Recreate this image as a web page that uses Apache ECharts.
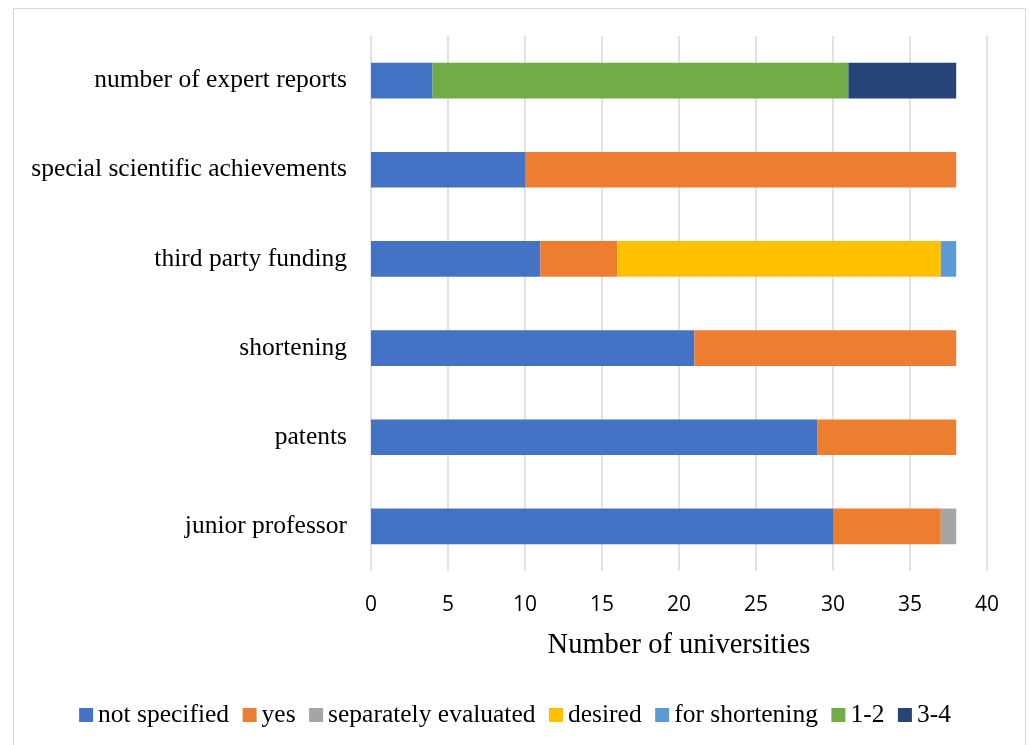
<!DOCTYPE html>
<html>
<head>
<meta charset="utf-8">
<script src="https://cdn.jsdelivr.net/npm/echarts@6/dist/echarts.min.js"></script>
<style>
html,body{margin:0;padding:0;background:#fff;}
#frame{position:absolute;left:13px;top:8px;width:1013px;height:745px;border:1px solid #D9D9D9;box-sizing:border-box;}
#chart{position:absolute;left:0;top:0;width:1030px;height:745px;}
</style>
</head>
<body>
<div id="frame"></div>
<div id="chart"></div>
<script>
const categories = ['junior professor', 'patents', 'shortening', 'third party funding', 'special scientific achievements', 'number of expert reports'];
const notSpecified = [30, 29, 21, 11, 10, 4];
const yes = [7, 9, 17, 5, 28, 0];
const separatelyEvaluated = [1, 0, 0, 0, 0, 0];
const desired = [0, 0, 0, 21, 0, 0];
const forShortening = [0, 0, 0, 1, 0, 0];
const oneTwo = [0, 0, 0, 0, 0, 27];
const threeFour = [0, 0, 0, 0, 0, 7];
const xTicks = [0, 5, 10, 15, 20, 25, 30, 35, 40];

const serif = 'Liberation Serif';
const seriesDefs = [
  ['not specified', notSpecified, '#4472C4'],
  ['yes', yes, '#ED7D31'],
  ['separately evaluated', separatelyEvaluated, '#A5A5A5'],
  ['desired', desired, '#FFC000'],
  ['for shortening', forShortening, '#5B9BD5'],
  ['1-2', oneTwo, '#70AD47'],
  ['3-4', threeFour, '#264478']
];

const chart = echarts.init(document.getElementById('chart'), null, {renderer: 'canvas'});
chart.setOption({
  animation: false,
  grid: {left: 371, right: 43, top: 36, bottom: 174, containLabel: false},
  legend: {
    bottom: 12, left: 'center',
    itemWidth: 14, itemHeight: 14, itemGap: 13.5,
    icon: 'rect',
    textStyle: {fontFamily: serif, fontSize: 25.5, color: '#000'},
    data: seriesDefs.map(d => d[0])
  },
  xAxis: {
    type: 'value', min: 0, max: 40, interval: 5,
    name: 'Number of universities', nameLocation: 'middle', nameGap: 60,
    nameTextStyle: {fontFamily: serif, fontSize: 28.5, color: '#000'},
    axisLine: {show: false}, axisTick: {show: false},
    axisLabel: {fontFamily: 'Open Sans', fontSize: 21, color: '#000', margin: 24,
      formatter: v => xTicks.includes(v) ? String(v) : ''},
    splitLine: {show: true, lineStyle: {color: '#D9D9D9', width: 1.5}}
  },
  yAxis: {
    type: 'category', data: categories,
    axisLine: {show: false}, axisTick: {show: false},
    axisLabel: {fontFamily: serif, fontSize: 25.5, color: '#000', margin: 24}
  },
  series: seriesDefs.map(d => ({
    name: d[0], type: 'bar', stack: 'total', data: d[1],
    barWidth: '40%', itemStyle: {color: d[2]}
  }))
});
</script>
</body>
</html>
